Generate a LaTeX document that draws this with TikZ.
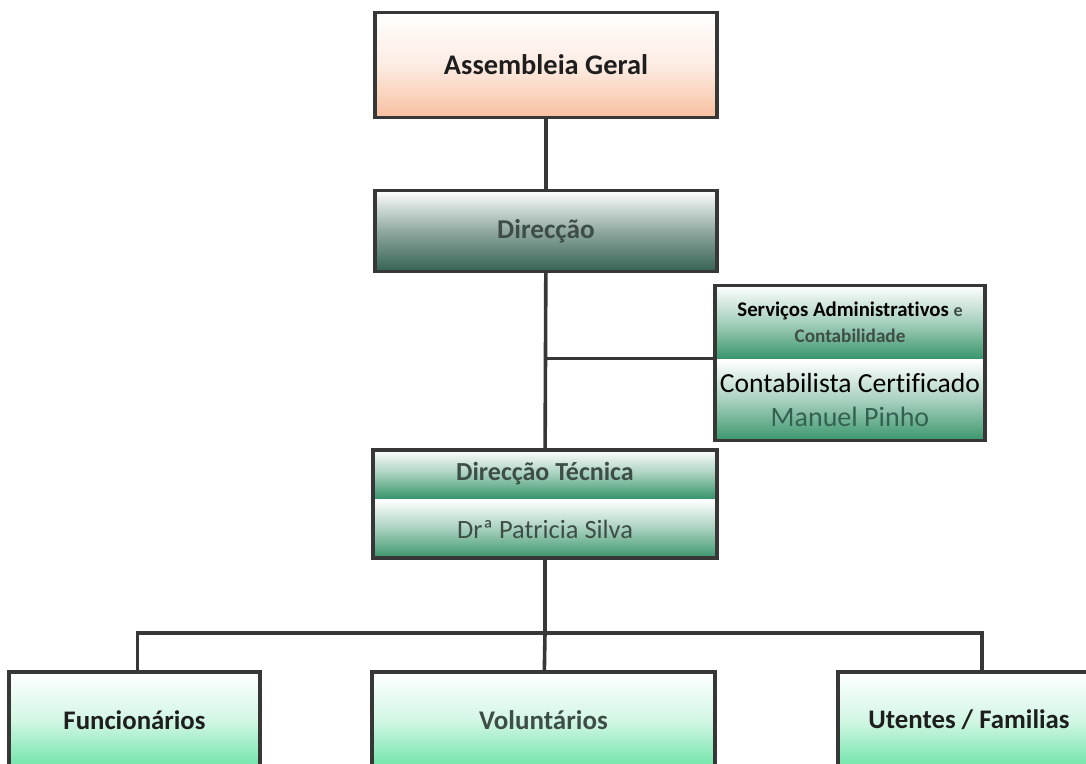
\documentclass[tikz,border=0pt]{standalone}
\usepackage{fontspec}
\setmainfont{Carlito}[Ligatures=NoCommon]
\usetikzlibrary{positioning}
\definecolor{frame}{RGB}{55,55,55}
\definecolor{peach}{RGB}{248,192,160}
\definecolor{teal}{RGB}{52,98,82}
\definecolor{jade}{RGB}{58,150,108}
\definecolor{mint}{RGB}{110,228,168}
\definecolor{ink}{RGB}{30,30,30}
\definecolor{moss}{RGB}{62,78,70}
\tikzset{
  unit/.style={draw=frame,line width=1.6pt,inner sep=0pt,outer sep=0pt,
    align=center,text=ink,font=\bfseries\fontsize{13.4}{15}\selectfont},
  part/.style={inner sep=0pt,outer sep=0pt,align=center,
    top color=white,bottom color=#1,middle color=white!55!#1},
  part/.default=jade,
  link/.style={draw=frame,line width=1.8pt},
}
\begin{document}
\begin{tikzpicture}[x=0.5pt,y=-0.5pt]
  \useasboundingbox (0,0) rectangle (1086,764);
  % top of the chart
  \node[unit,top color=white,bottom color=peach,middle color=white!70!peach,
    font=\bfseries\fontsize{14.2}{16}\selectfont,
    minimum width=171pt,minimum height=52.5pt] (ag) at (546,65) {Assembleia Geral};
  \node[unit,top color=white,bottom color=teal,middle color=white!45!teal,text=moss,
    font=\bfseries\fontsize{13.6}{15}\selectfont,
    minimum width=171pt,minimum height=40.5pt] (dir) at (546,231) {Direcção};
  \draw[link] (ag) -- (dir);
  % services box, two parts and one frame
  \node[part,minimum width=135pt,minimum height=36.5pt,font=\bfseries] (sac) at (850,322)
    {\fontsize{10.4}{13.5}\selectfont Serviços Administrativos
     {\fontsize{9}{10}\selectfont\color{moss}e}\\[1pt]
     {\fontsize{9.6}{10}\selectfont\color{moss}Contabilidade}};
  \node[part,minimum width=135pt,minimum height=40pt] (sacn) at (850,400.5)
    {\fontsize{13.8}{17.5}\selectfont Contabilista Certif\kern0pt icado\\[5pt]
     {\fontsize{14}{17.5}\selectfont\color{teal}Manuel Pinho}};
  \draw[frame,line width=1.6pt] (sac.north west) rectangle (sacn.south east);
  % technical direction
  \node[part,minimum width=172pt,minimum height=24pt,text=moss,
    font=\bfseries\fontsize{13}{14}\selectfont] (dt) at (545,474) {Direcção Técnica};
  \node[part,minimum width=172pt,minimum height=29pt,text=moss,
    font=\fontsize{13.2}{14}\selectfont] (dtn) at (545,529) {Drª Patricia Silva};
  \draw[frame,line width=1.6pt] (dt.north west) rectangle (dtn.south east);
  \draw[link] (dir) -- (dt);
  \draw[link] (sac.south west) -- (sac.south west -| dir.south);
  % staff, volunteers, users
  \coordinate (hub) at (545,633);
  \draw[link] (dtn) -- (hub);
  \node[unit,top color=white,bottom color=mint,middle color=white!70!mint,
    minimum width=125.5pt,minimum height=48pt] (fun) at (134.5,720) {Funcionários};
  \node[unit,top color=white,bottom color=mint,middle color=white!70!mint,
    font=\bfseries\fontsize{13.5}{15}\selectfont,text=moss,
    minimum width=171.5pt,minimum height=48pt] (vol) at (543.5,720) {Voluntários};
  \node[unit,top color=white,bottom color=mint,middle color=white!70!mint,
    minimum width=131pt,minimum height=48pt] (ute) at (969,720) {Utentes / Familias};
  \draw[link] (hub) -| ([xshift=1.5pt]fun.north);
  \draw[link] (hub) -- (vol);
  \draw[link] (hub) -| ([xshift=6.5pt]ute.north);
\end{tikzpicture}
\end{document}
